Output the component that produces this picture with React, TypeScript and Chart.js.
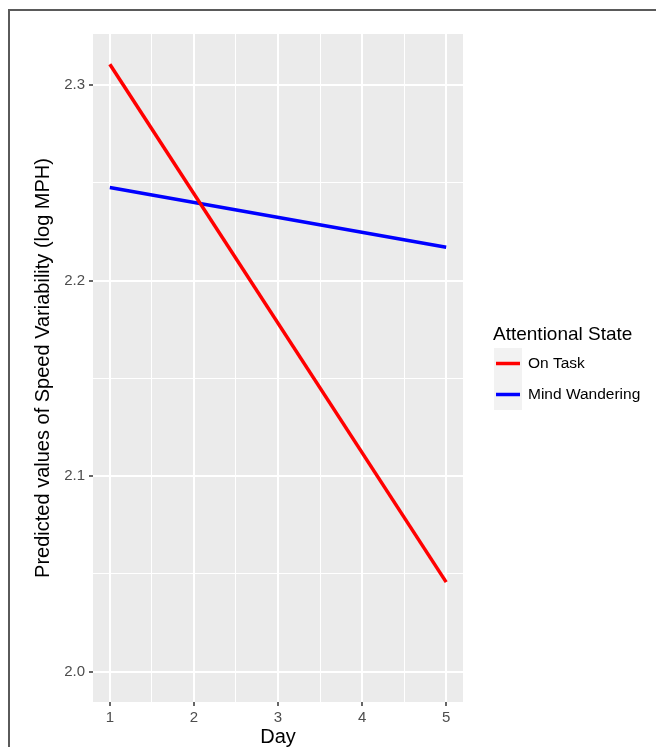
import React, { useEffect, useRef } from "react";
import { Chart, registerables } from "chart.js";

Chart.register(...registerables);

// ---- data ----
const days = [1, 5];
const onTask = [2.3106, 2.0458];
const mindWandering = [2.2476, 2.217];
const seriesLabels = ["On Task", "Mind Wandering"];
const seriesColors = ["#FF0000", "#0000FF"];
const xMajorTicks = [1, 2, 3, 4, 5];
const xMinorTicks = [1.5, 2.5, 3.5, 4.5];
const yMajorTicks = [2.0, 2.1, 2.2, 2.3];
const yMinorTicks = [2.05, 2.15, 2.25];
const xLimits = [0.8, 5.2];
const yLimits = [1.9845, 2.3261];
const legendTitle = "Attentional State";
const xTitle = "Day";
const yTitle = "Predicted values of Speed Variability (log MPH)";

const FONT = '"Liberation Sans", Arial, Helvetica, sans-serif';
const PANEL_BG = "#EBEBEB";

const isIn = (list: number[], v: number) => list.some((m) => Math.abs(m - v) < 1e-9);

const panelPlugin = {
  id: "panelBg",
  beforeDraw(chart: any) {
    const { ctx, chartArea } = chart;
    ctx.save();
    ctx.fillStyle = PANEL_BG;
    ctx.fillRect(chartArea.left, chartArea.top, chartArea.right - chartArea.left, chartArea.bottom - chartArea.top);
    ctx.restore();
  },
};

const legendPlugin = {
  id: "ggLegend",
  afterDraw(chart: any) {
    const { ctx, chartArea } = chart;
    const x0 = chartArea.right + 30;
    const mid = (chartArea.top + chartArea.bottom) / 2;
    const titleBase = mid - 28;
    ctx.save();
    ctx.font = `19px ${FONT}`;
    ctx.fillStyle = "#000000";
    ctx.textBaseline = "alphabetic";
    ctx.textAlign = "left";
    ctx.fillText(legendTitle, x0, titleBase);
    chart.data.datasets.forEach((ds: any, i: number) => {
      const top = titleBase + 8 + i * 31;
      const keyW = 28;
      const keyH = 31;
      ctx.fillStyle = "#F2F2F2";
      ctx.fillRect(x0 + 1, top, keyW, keyH);
      ctx.strokeStyle = ds.borderColor;
      ctx.lineWidth = 3.5;
      ctx.beginPath();
      ctx.moveTo(x0 + 3, top + keyH / 2);
      ctx.lineTo(x0 + keyW - 1, top + keyH / 2);
      ctx.stroke();
      ctx.fillStyle = "#000000";
      ctx.font = `15.5px ${FONT}`;
      ctx.textBaseline = "middle";
      ctx.fillText(ds.label, x0 + 35, top + keyH / 2);
    });
    ctx.restore();
  },
};

export default function App() {
  const ref = useRef<HTMLCanvasElement | null>(null);

  useEffect(() => {
    if (!ref.current) return;
    const mk = (vals: number[]) => days.map((d, i) => ({ x: d, y: vals[i] }));
    const chart = new Chart(ref.current, {
      type: "line",
      data: {
        datasets: [
          {
            label: seriesLabels[0],
            data: mk(onTask),
            borderColor: seriesColors[0],
            backgroundColor: seriesColors[0],
            borderWidth: 3.5,
            pointRadius: 0,
            tension: 0,
          },
          {
            label: seriesLabels[1],
            data: mk(mindWandering),
            borderColor: seriesColors[1],
            backgroundColor: seriesColors[1],
            borderWidth: 3.5,
            pointRadius: 0,
            tension: 0,
          },
        ],
      },
      options: {
        responsive: false,
        animation: false,
        devicePixelRatio: 1,
        layout: { padding: { top: 34, right: 193, bottom: 0, left: 0 } },
        plugins: {
          legend: { display: false },
          tooltip: { enabled: false },
        },
        scales: {
          x: {
            type: "linear",
            min: xLimits[0],
            max: xLimits[1],
            afterBuildTicks: (s: any) => {
              s.ticks = [...xMajorTicks, ...xMinorTicks].sort((a, b) => a - b).map((v) => ({ value: v }));
            },
            afterFit: (s: any) => {
              s.height = 45;
            },
            border: { display: false },
            grid: {
              color: "#FFFFFF",
              lineWidth: (c: any) => (c.tick && isIn(xMajorTicks, c.tick.value) ? 2 : 1),
              tickColor: (c: any) => (c.tick && isIn(xMajorTicks, c.tick.value) ? "#333333" : "rgba(0,0,0,0)"),
              tickLength: 4,
              tickWidth: 1.5,
            },
            ticks: {
              autoSkip: false,
              maxRotation: 0,
              padding: 3,
              color: "#4D4D4D",
              font: { family: FONT, size: 15 },
              callback: (v: any) => (isIn(xMajorTicks, Number(v)) ? String(v) : ""),
            },
            title: {
              display: true,
              text: xTitle,
              color: "#000000",
              font: { family: FONT, size: 20, lineHeight: 1 },
              padding: { top: 0, bottom: 0 },
            },
          },
          y: {
            type: "linear",
            min: yLimits[0],
            max: yLimits[1],
            afterBuildTicks: (s: any) => {
              s.ticks = [...yMajorTicks, ...yMinorTicks].sort((a, b) => a - b).map((v) => ({ value: v }));
            },
            afterFit: (s: any) => {
              s.width = 93;
            },
            border: { display: false },
            grid: {
              color: "#FFFFFF",
              lineWidth: (c: any) => (c.tick && isIn(yMajorTicks, c.tick.value) ? 2 : 1),
              tickColor: (c: any) => (c.tick && isIn(yMajorTicks, c.tick.value) ? "#333333" : "rgba(0,0,0,0)"),
              tickLength: 4,
              tickWidth: 1.5,
            },
            ticks: {
              autoSkip: false,
              padding: 4,
              color: "#4D4D4D",
              font: { family: FONT, size: 15 },
              callback: (v: any) => (isIn(yMajorTicks, Number(v)) ? Number(v).toFixed(1) : ""),
            },
            title: {
              display: true,
              text: yTitle,
              color: "#000000",
              font: { family: FONT, size: 20, lineHeight: 1 },
              padding: { top: 33, bottom: 0 },
            },
          },
        },
      },
      plugins: [panelPlugin, legendPlugin],
    } as any);
    return () => chart.destroy();
  }, []);

  return (
    <div style={{ position: "fixed", left: 0, top: 0, width: 656, height: 747, background: "#FFFFFF" }}>
      <div
        style={{
          position: "absolute",
          left: 8,
          top: 9,
          width: 660,
          height: 760,
          borderTop: "2px solid #5A5A5A",
          borderLeft: "2px solid #5A5A5A",
          boxSizing: "border-box",
        }}
      />
      <canvas ref={ref} width={656} height={747} style={{ position: "absolute", left: 0, top: 0, width: 656, height: 747 }} />
    </div>
  );
}
